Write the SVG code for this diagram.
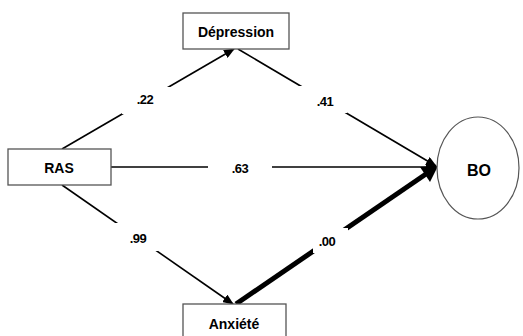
<svg xmlns="http://www.w3.org/2000/svg" width="523" height="336" viewBox="0 0 523 336">
<defs>
<style>
.box{fill:#fff;stroke:#555;stroke-width:1.3}
.node{font-family:"Liberation Sans",Arial,sans-serif;font-weight:bold;font-size:14px;fill:#000;text-anchor:middle}
.lbl{font-family:"Liberation Sans",Arial,sans-serif;font-weight:bold;font-size:13px;letter-spacing:-0.6px;fill:#000;text-anchor:middle}
.ln{stroke:#000;stroke-width:1.6;fill:none}
.thick{stroke:#000;stroke-width:5;fill:none}
.gap{fill:#fff}
</style>
<marker id="arr" markerUnits="userSpaceOnUse" markerWidth="11" markerHeight="9" refX="10" refY="4.5" orient="auto">
<path d="M0,0 L11,4.5 L0,9 Z" fill="#000"/>
</marker>
</defs>
<rect width="523" height="336" fill="#fff"/>
<g id="connectors">
<line class="ln" x1="62" y1="149" x2="234" y2="49" marker-end="url(#arr)"/>
<line class="ln" x1="238" y1="49" x2="436" y2="166" marker-end="url(#arr)"/>
<line class="ln" x1="111" y1="167" x2="436" y2="167" marker-end="url(#arr)"/>
<line class="ln" x1="62" y1="185" x2="233" y2="304" marker-end="url(#arr)"/>
<line class="thick" x1="236" y1="304" x2="426" y2="174"/>
<path d="M438,166 L420,167 L430,182 Z" fill="#000"/>
<rect class="gap" x="122" y="87" width="50" height="27"/>
<rect class="gap" x="298" y="86" width="49" height="27"/>
<rect class="gap" x="208" y="158" width="64" height="20"/>
<rect class="gap" x="115" y="223" width="43" height="28"/>
<rect class="gap" x="313" y="228" width="35" height="25"/>
<text class="lbl" x="145" y="104">.22</text>
<text class="lbl" x="325" y="106">.41</text>
<text class="lbl" x="240" y="173">.63</text>
<text class="lbl" x="138" y="243">.99</text>
<text class="lbl" x="327" y="246">.00</text>
</g>
<g id="depression">
<rect class="box" x="183" y="13" width="106" height="36"/>
<text class="node" x="236" y="37">Dépression</text>
</g>
<g id="ras">
<rect class="box" x="8" y="149" width="103" height="36"/>
<text class="node" x="59" y="173">RAS</text>
</g>
<g id="bo">
<ellipse cx="478" cy="168" rx="41" ry="51" fill="#fff" stroke="#555" stroke-width="1.2"/>
<text class="node" x="479" y="176" style="font-size:16px">BO</text>
</g>
<g id="anxiete">
<rect class="box" x="183" y="304" width="103" height="40"/>
<text class="node" x="234" y="329">Anxiété</text>
</g>
</svg>
